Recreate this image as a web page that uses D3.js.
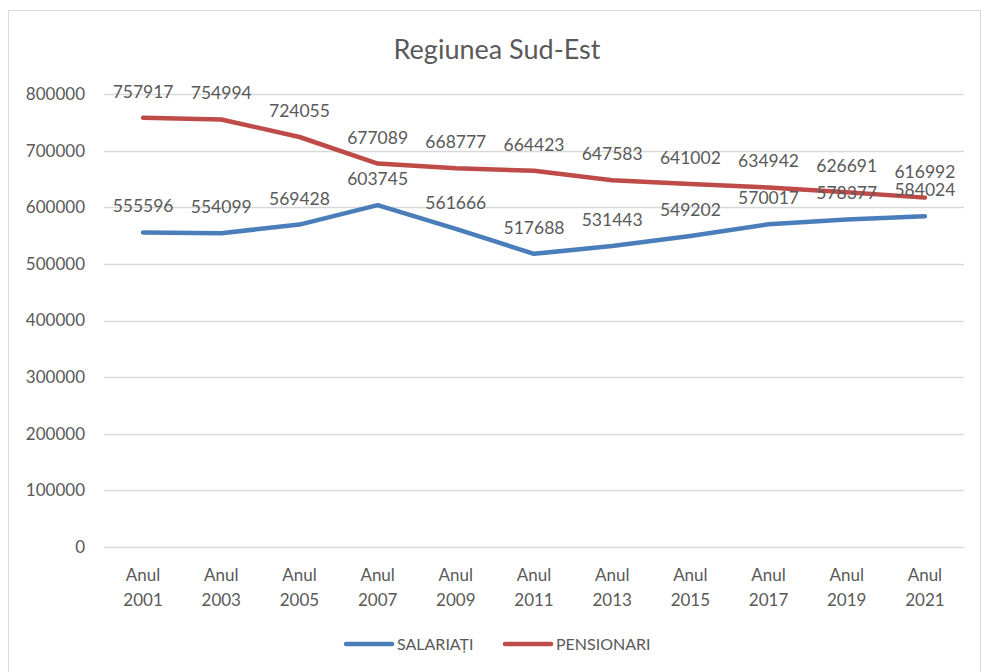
<!DOCTYPE html>
<html><head><meta charset="utf-8">
<script src="https://cdn.jsdelivr.net/npm/d3@7"></script>
<style>
body{margin:0;background:#fff;}
text{font-family:Lato, "Open Sans", sans-serif;fill:#595959;}
</style></head>
<body><svg id="c" width="982" height="672"></svg>
<script>
const categories = ["Anul 2001","Anul 2003","Anul 2005","Anul 2007","Anul 2009","Anul 2011","Anul 2013","Anul 2015","Anul 2017","Anul 2019","Anul 2021"];
const salariati = [555596,554099,569428,603745,561666,517688,531443,549202,570017,578377,584024];
const pensionari = [757917,754994,724055,677089,668777,664423,647583,641002,634942,626691,616992];
const seriesNames = ["SALARIAȚI","PENSIONARI"];
const yTicks = [0,100000,200000,300000,400000,500000,600000,700000,800000];
const title = "Regiunea Sud-Est";

(function(){
const colors = ["#4A7EBB","#BE4B48"];
const svg = d3.select("#c");
svg.append("rect").attr("x",8.5).attr("y",10.5).attr("width",972).attr("height",670)
  .attr("fill","#fff").attr("stroke","#d9d9d9").attr("stroke-width",1);

const pl=104,pr=964,pt=94,pb=547;
const x = d3.scaleBand().domain(categories).range([pl,pr]);
const y = d3.scaleLinear().domain([0,800000]).range([pb,pt]);

svg.append("text").attr("x",497).attr("y",59).attr("text-anchor","middle")
  .style("font-size","27px").text(title);

const gy = svg.append("g");
yTicks.forEach(t=>{
  gy.append("line").attr("x1",pl).attr("x2",pr).attr("y1",Math.round(y(t))+0.5).attr("y2",Math.round(y(t))+0.5)
    .attr("stroke","#d9d9d9").attr("stroke-width",1.3);
  gy.append("text").attr("x",85).attr("y",y(t)).attr("dy","0.35em").attr("text-anchor","end")
    .style("font-size","17px").text(t);
});

categories.forEach(c=>{
  const parts=c.split(" ");
  const cx=x(c)+x.bandwidth()/2;
  const t=svg.append("text").attr("text-anchor","middle").style("font-size","17px");
  t.append("tspan").attr("x",cx).attr("y",581).text(parts[0]);
  t.append("tspan").attr("x",cx).attr("y",606).text(parts[1]);
});

const line = d3.line().x((d,i)=>x(categories[i])+x.bandwidth()/2).y(d=>y(d));
[salariati,pensionari].forEach((s,k)=>{
  svg.append("path").attr("d",line(s)).attr("fill","none").attr("stroke",colors[k])
    .attr("stroke-width",4.5).attr("stroke-linejoin","round").attr("stroke-linecap","round");
});
[salariati,pensionari].forEach((s,k)=>{
  s.forEach((v,i)=>{
    svg.append("text").attr("x",x(categories[i])+x.bandwidth()/2).attr("y",y(v)-20)
      .attr("text-anchor","middle").style("font-size","17.5px").text(v);
  });
});

const lg=[{x:346,n:0},{x:505,n:1}];
lg.forEach(l=>{
  svg.append("line").attr("x1",l.x).attr("x2",l.x+46).attr("y1",644).attr("y2",644)
    .attr("stroke",colors[l.n]).attr("stroke-width",4.5).attr("stroke-linecap","round");
  svg.append("text").attr("x",l.x+51).attr("y",644).attr("dy","0.35em").style("font-size","16px").text(seriesNames[l.n]);
});
})();
</script></body></html>
